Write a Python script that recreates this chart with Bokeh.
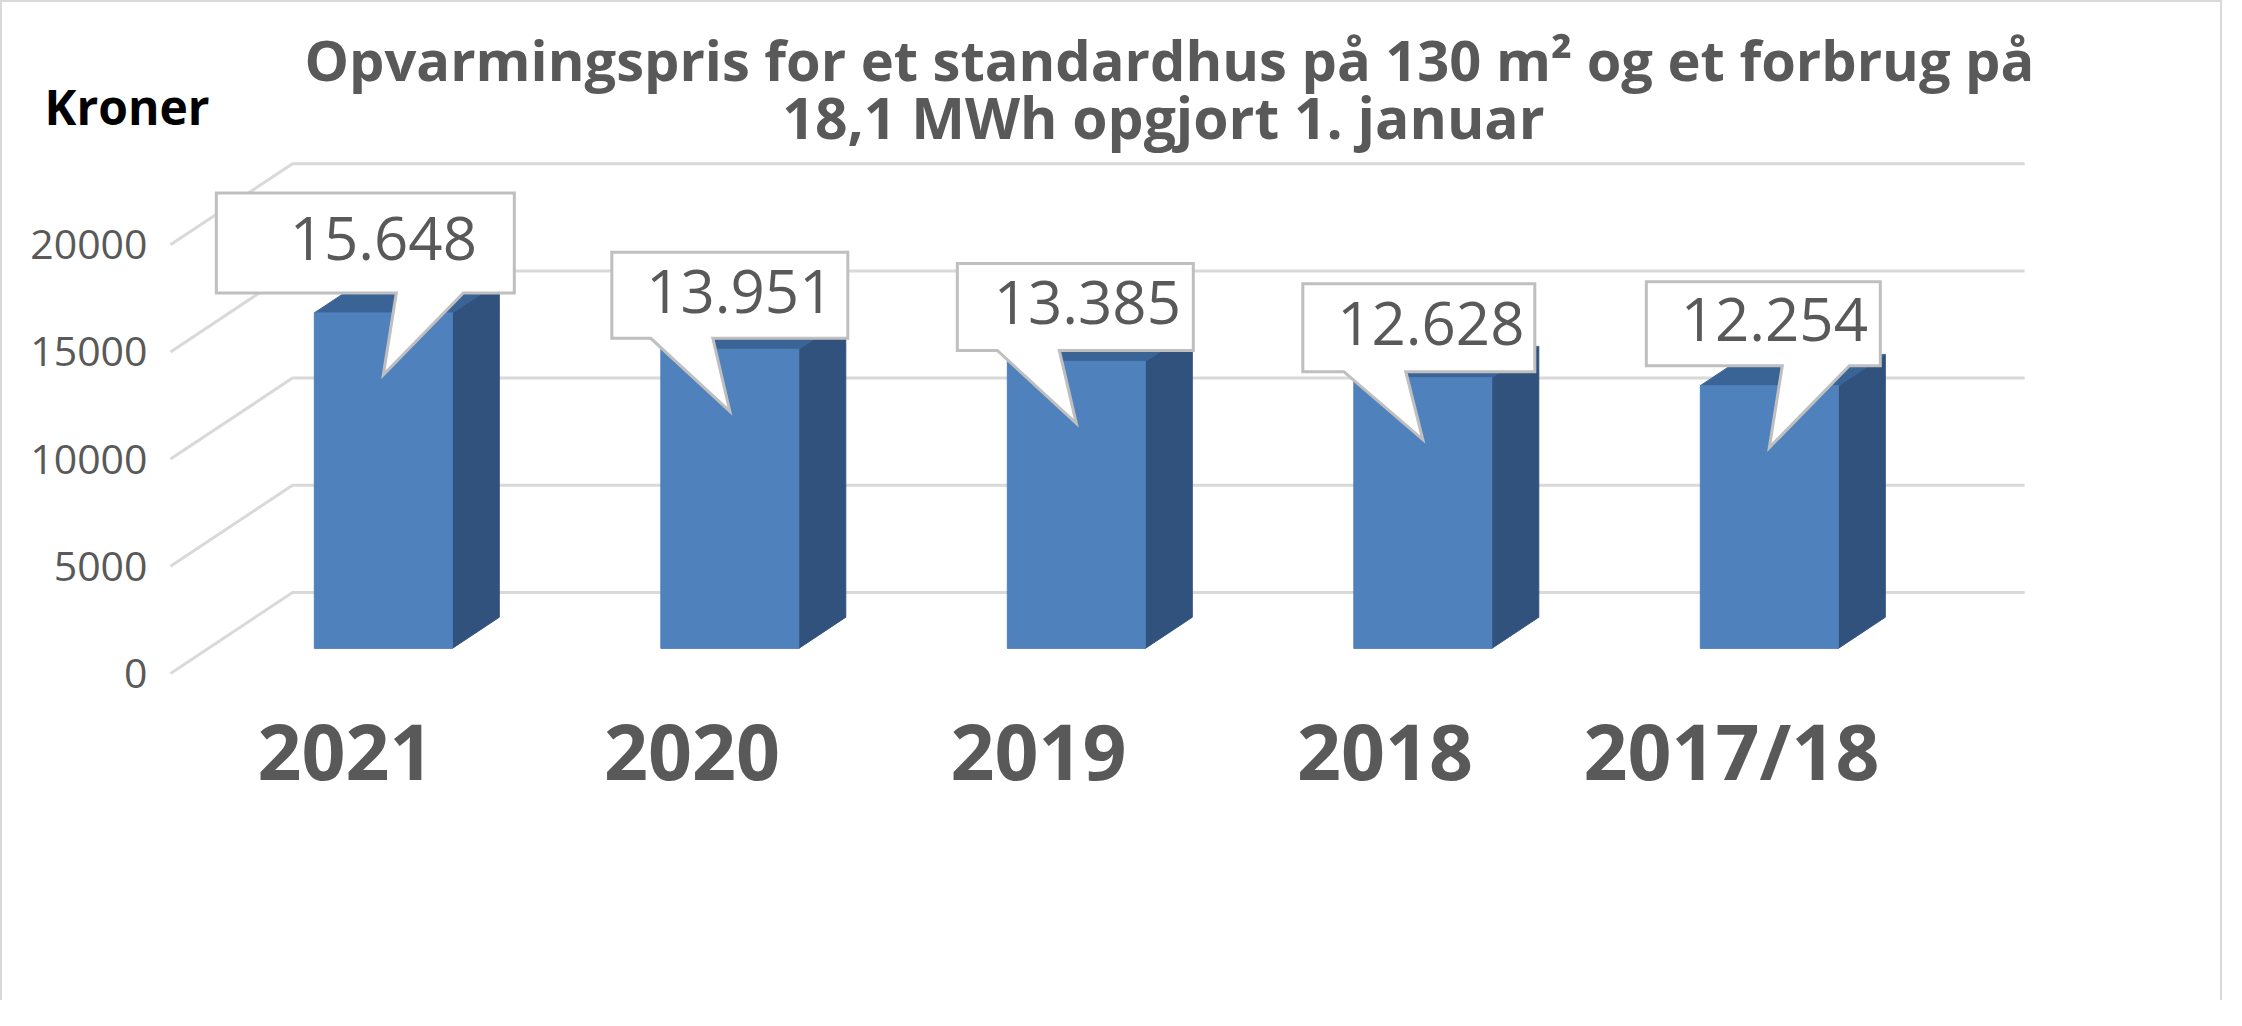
from bokeh.plotting import figure
from bokeh.models import Range1d, FixedTicker, ColumnDataSource
from bokeh.embed import file_html
from bokeh.resources import INLINE
from bokeh.core.properties import value

# ---------------- data ----------------
categories = ["2021", "2020", "2019", "2018", "2017/18"]
prices = [15648, 13951, 13385, 12628, 12254]
price_labels = ["15.648", "13.951", "13.385", "12.628", "12.254"]
y_ticks = [0, 5000, 10000, 15000, 20000]
title_line1 = "Opvarmingspris for et standardhus på 130 m² og et forbrug på"
title_line2 = "18,1 MWh opgjort 1. januar"
y_unit = "Kroner"

# ---------------- layout / style constants ----------------
W, H = 2222, 1000
ORIGIN = 10                                # window px of canvas origin (margin + border)
FL, FR, FT, FB = 40, 2164, 90, 700         # frame edges in window px
PXU = 346.5                                # px per category step
KY = 0.02144                               # px per krone
X_ZERO_PX, Y_ZERO_PX = 353, 681
XS = (FL - X_ZERO_PX) / PXU
XE = (FR - X_ZERO_PX) / PXU
YS = (Y_ZERO_PX - FB) / KY
YE = (Y_ZERO_PX - FT) / KY

DX = 122 / PXU          # full depth offset (x)
DY = 81 / KY            # full depth offset (y)
DF, DB = 0.31, 0.695    # bar depth (front/back fraction)
HALF_W = 69 / PXU
WALL_X0 = (178 - X_ZERO_PX) / PXU
WALL_X1 = 4.494
YLABEL_RIGHT_PX = 155
TITLE_LEFT_PX = 312

FRONT = "#4F81BD"
SIDE = "#32527E"
TOP = "#3B6496"
GRID = "#D9D9D9"
TXT = "#595959"

CALLOUT_W_PX = [298, 236, 236, 232, 234]
CALLOUT_H_PX = [100, 86, 87, 88, 84]
CALLOUT_DX_PX = [-18, 0, -1, -4, -6]
CALLOUT_GAP_PX = [20, 11, 11, 6, 20]
CALLOUT_TEXT_DX_PX = [18, 10, 12, 12, 11]
WEDGE_SIDE = [1, -1, -1, -1, 1]
TIP_DROP_PX = 62


def dx_px(px):
    return px / PXU


def dy_px(px):
    return px / KY


def wx(px):
    return (px - X_ZERO_PX) / PXU


def wy(py):
    return (Y_ZERO_PX - py) / KY


p = figure(width=W, height=H, output_backend="svg", toolbar_location=None,
           x_range=Range1d(XS, XE), y_range=Range1d(YS, YE),
           title=title_line1,
           min_border_left=FL - ORIGIN, min_border_right=ORIGIN + W - FR,
           min_border_top=FT - ORIGIN, min_border_bottom=H - (FB - ORIGIN))
p.styles = {"border-left": "2px solid #D9D9D9", "border-top": "2px solid #D9D9D9",
            "border-right": "2px solid #D9D9D9"}
p.outline_line_color = None
p.background_fill_color = "white"
p.border_fill_color = "white"
p.xgrid.visible = False
p.ygrid.visible = False

p.title.align = "left"
p.title.offset = TITLE_LEFT_PX - FL
p.title.text_font = "Open Sans"
p.title.text_font_size = "56px"
p.title.text_font_style = "bold"
p.title.text_color = TXT
p.title.standoff = -28

# axes
p.yaxis.ticker = FixedTicker(ticks=y_ticks)
p.yaxis.major_label_overrides = {t: str(t) for t in y_ticks}
p.yaxis.axis_line_color = None
p.yaxis.major_tick_line_color = None
p.yaxis.minor_tick_line_color = None
p.yaxis.major_tick_out = 0
p.yaxis.major_label_standoff = -(YLABEL_RIGHT_PX - FL)
p.yaxis.major_label_text_font = "Open Sans"
p.yaxis.major_label_text_font_size = "41px"
p.yaxis.major_label_text_color = TXT

p.xaxis.ticker = FixedTicker(ticks=list(range(len(categories))))
p.xaxis.major_label_overrides = {i: c for i, c in enumerate(categories)}
p.xaxis.axis_line_color = None
p.xaxis.major_tick_line_color = None
p.xaxis.minor_tick_line_color = None
p.xaxis.major_tick_out = 0
p.xaxis.major_label_standoff = 5
p.xaxis.major_label_text_font = "Open Sans"
p.xaxis.major_label_text_font_size = "77px"
p.xaxis.major_label_text_font_style = "bold"
p.xaxis.major_label_text_color = TXT

# back wall + side wall gridlines
wall_xs, wall_ys = [], []
for t in y_ticks:
    wall_xs.append([WALL_X0, WALL_X0 + DX, WALL_X1 + DX])
    wall_ys.append([t, t + DY, t + DY])
p.multi_line(wall_xs, wall_ys, line_color=GRID, line_width=3)

# bars (oblique 3D)
front_x, front_y, side_x, side_y, top_x, top_y = [], [], [], [], [], []
for i, v in enumerate(prices):
    xl, xr = i - HALF_W, i + HALF_W
    front_x.append([xl + DF * DX, xr + DF * DX, xr + DF * DX, xl + DF * DX])
    front_y.append([DF * DY, DF * DY, v + DF * DY, v + DF * DY])
    side_x.append([xr + DF * DX, xr + DB * DX, xr + DB * DX, xr + DF * DX])
    side_y.append([DF * DY, DB * DY, v + DB * DY, v + DF * DY])
    top_x.append([xl + DF * DX, xr + DF * DX, xr + DB * DX, xl + DB * DX])
    top_y.append([v + DF * DY, v + DF * DY, v + DB * DY, v + DB * DY])
p.patches(side_x, side_y, fill_color=SIDE, line_color=SIDE, line_width=1)
p.patches(top_x, top_y, fill_color=TOP, line_color=TOP, line_width=1)
p.patches(front_x, front_y, fill_color=FRONT, line_color=FRONT, line_width=1)

# callouts
cx_list, cy_list, tx, ty = [], [], [], []
for i, v in enumerate(prices):
    cx = i + DF * DX
    top_val = v + DF * DY
    tip_x, tip_y = cx, top_val - dy_px(TIP_DROP_PX)
    bcx = cx + dx_px(CALLOUT_DX_PX[i])
    bx0 = bcx - dx_px(CALLOUT_W_PX[i] / 2)
    bx1 = bcx + dx_px(CALLOUT_W_PX[i] / 2)
    by0 = top_val + dy_px(CALLOUT_GAP_PX[i])
    by1 = by0 + dy_px(CALLOUT_H_PX[i])
    if WEDGE_SIDE[i] > 0:
        wl, wr = tip_x + dx_px(13), tip_x + dx_px(80)
    else:
        wl, wr = tip_x - dx_px(79), tip_x - dx_px(17)
    cx_list.append([bx0, bx1, bx1, wr, tip_x, wl, bx0])
    cy_list.append([by1, by1, by0, by0, tip_y, by0, by0])
    tx.append(bcx + dx_px(CALLOUT_TEXT_DX_PX[i]))
    ty.append((by0 + by1) / 2 + dy_px(4))
p.patches(cx_list, cy_list, fill_color="white", line_color="#BFBFBF", line_width=3,
          line_join="miter")
src = ColumnDataSource(dict(x=tx, y=ty, t=price_labels))
p.text("x", "y", text="t", source=src, text_align="center", text_baseline="middle",
       text_font=value("Open Sans"), text_font_size="60px", text_color=TXT)

# second title line and unit label (anchor = bottom of text box)
p.text(x=[wx(1171)], y=[wy(124)], text=[title_line2], text_align="center",
       text_baseline="alphabetic", text_font=value("Open Sans"),
       text_font_size="57px", text_font_style="bold", text_color=TXT)
p.text(x=[wx(52)], y=[wy(114)], text=[y_unit], text_align="left",
       text_baseline="alphabetic", text_font=value("Open Sans"),
       text_font_size="48px", text_font_style="bold", text_color="black")

open("out.html", "w", encoding="utf-8").write(file_html(p, INLINE))
